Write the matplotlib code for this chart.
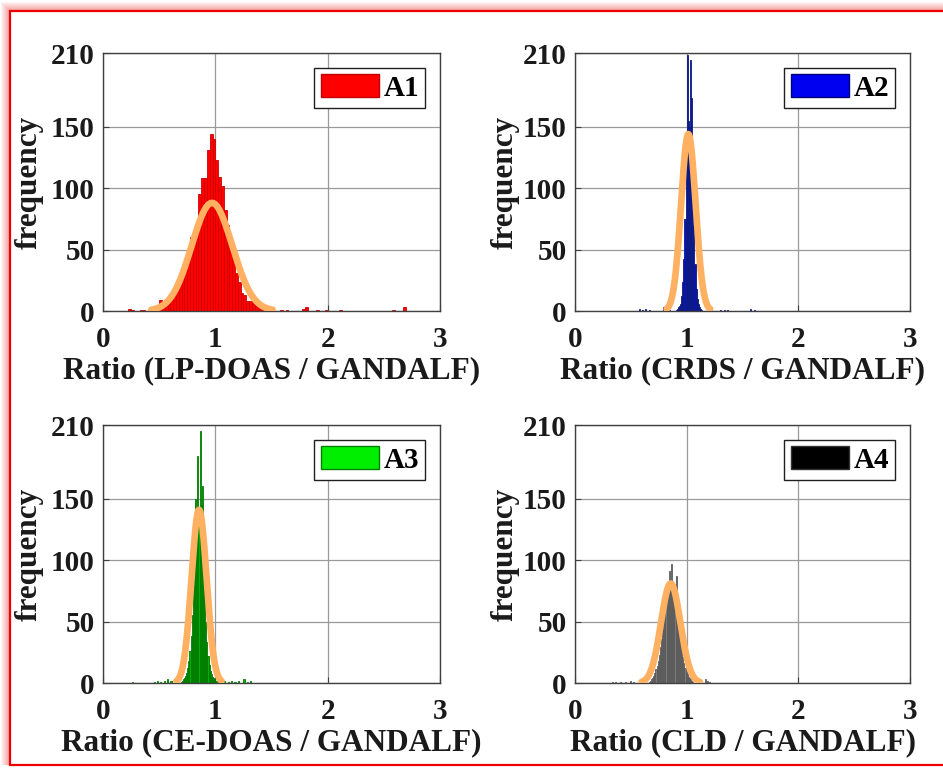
import numpy as np
import matplotlib
matplotlib.use("Agg")
import matplotlib.pyplot as plt
from matplotlib.patches import Rectangle, Patch

# ---------------- data ----------------
labels = ["A1", "A2", "A3", "A4"]
xlabels = ["Ratio (LP-DOAS / GANDALF)", "Ratio (CRDS / GANDALF)",
           "Ratio (CE-DOAS / GANDALF)", "Ratio (CLD / GANDALF)"]
xticks = [0, 1, 2, 3]
yticks = [0, 50, 100, 150, 210]

# main body: first bin left edge, bin width, counts
a1_start, a1_width = 0.400, 0.025
a1_counts = [1, 1, 2, 3, 9, 4, 6, 8, 12, 15, 18, 22, 30, 33, 47, 60, 66, 70, 95, 108,
             108, 131, 144, 140, 123, 109, 102, 82, 70, 55, 42, 31, 24, 15, 13, 8, 8, 9,
             7, 4, 3, 2, 2, 1, 1]
a1_out_x = [0.225, 0.250, 0.325, 0.350, 1.575, 1.625, 1.775, 1.800, 1.900, 1.975, 2.100, 2.575, 2.675]
a1_out_n = [2, 1, 1, 1, 1, 1, 2, 3, 1, 1, 1, 1, 3]

a2_start, a2_width = 0.90, 0.01
a2_counts = [1, 2, 3, 4, 6, 12, 24, 42, 75, 118, 208, 155, 150, 204, 173, 112, 70, 38, 18,
             10, 6, 3, 2, 1]
a2_out_x = [0.57, 0.60, 0.63, 0.66, 0.79, 0.81, 0.84, 1.22, 1.30, 1.33, 1.36, 1.57, 1.60]
a2_out_n = [2, 1, 2, 1, 3, 2, 1, 3, 1, 1, 1, 2, 1]

a3_start, a3_width = 0.69, 0.01
a3_counts = [1, 2, 3, 4, 6, 8, 12, 18, 26, 38, 55, 80, 110, 150, 141, 185, 140, 205, 145,
             160, 110, 75, 50, 33, 22, 15, 10, 7, 5, 4, 3, 2, 2, 1, 1]
a3_out_x = [0.26, 0.45, 0.48, 0.51, 0.54, 0.57, 0.60, 0.63, 1.08, 1.11, 1.14, 1.17, 1.20, 1.25, 1.28, 1.31]
a3_out_n = [1, 1, 2, 1, 2, 3, 2, 1, 2, 1, 2, 1, 2, 3, 1, 2]

a4_start, a4_width = 0.66, 0.01
a4_counts = [1, 2, 3, 4, 6, 8, 11, 14, 18, 23, 29, 36, 44, 52, 60, 68, 75, 80, 91, 82,
             97, 80, 78, 74, 87, 62, 52, 43, 35, 27, 21, 16, 12, 9, 7, 5, 4, 3, 2, 1]
a4_out_x = [0.33, 0.36, 0.40, 0.45, 0.49, 0.52, 1.16, 1.18, 1.20]
a4_out_n = [1, 1, 1, 1, 2, 1, 3, 2, 1]

# normal fits (mean, sigma, peak height)
fit_mu = [0.97, 1.015, 0.855, 0.857]
fit_sigma = [0.18, 0.065, 0.067, 0.087]
fit_peak = [88, 144, 141, 81]

datasets = [
    (a1_start, a1_width, a1_counts, a1_out_x, a1_out_n),
    (a2_start, a2_width, a2_counts, a2_out_x, a2_out_n),
    (a3_start, a3_width, a3_counts, a3_out_x, a3_out_n),
    (a4_start, a4_width, a4_counts, a4_out_x, a4_out_n),
]

# ---------------- style ----------------
face = ["#FF0000", "#0A10C8", "#00B000", "#7A7A7A"]
edge = ["#D00000", "#0A1A80", "#007A00", "#5A5A5A"]
leg_face = ["#FF0000", "#0000F0", "#00EE00", "#000000"]
leg_edge = ["#C00000", "#00007A", "#008000", "#333333"]
fit_color = "#FFB060"
FONT = "Liberation Serif"
TXT = "#1A1A1A"

W, H = 943, 768
fig = plt.figure(figsize=(W / 100, H / 100), dpi=100)

# background / soft red glow border
bg = fig.add_axes([0, 0, 1, 1])
bg.set_xlim(0, W)
bg.set_ylim(H, 0)
bg.axis("off")
glow_cols = ["#FEF2F2", "#FDE8E8", "#FCDDDD", "#FAD2D2", "#F9C8C8", "#F8BEBE",
             "#F6B4B4", "#F5AAAA", "#F4A2A2"]
for k, c in enumerate(glow_cols):
    off = 9 - k
    bg.add_patch(Rectangle((10 - off, 11 - off), W + 20, 754 + off, facecolor=c,
                           edgecolor="none", zorder=1))
bg.add_patch(Rectangle((10, 11), W + 20, 754, facecolor="white", edgecolor="#EE0000",
                       linewidth=1.6, zorder=2))

positions = [
    [103 / W, 1 - 311 / H, 337 / W, 258 / H],
    [575 / W, 1 - 311 / H, 335 / W, 258 / H],
    [103 / W, 1 - 683 / H, 337 / W, 258 / H],
    [575 / W, 1 - 683 / H, 335 / W, 258 / H],
]
ylab_x = [-0.175, -0.165, -0.175, -0.165]

for i, (start, width, counts, ox, on) in enumerate(datasets):
    ax = fig.add_axes(positions[i])
    ax.set_zorder(5)
    lefts = start + width * np.arange(len(counts))
    ax.bar(lefts, counts, width=width, align="edge", color=face[i],
           edgecolor=edge[i], linewidth=0.6, zorder=2)
    ax.bar(ox, on, width=width, align="edge", color=face[i],
           edgecolor=edge[i], linewidth=0.6, zorder=2)
    mu, sg, pk = fit_mu[i], fit_sigma[i], fit_peak[i]
    xx = np.linspace(mu - 3 * sg, mu + 3 * sg, 200)
    ax.plot(xx, pk * np.exp(-0.5 * ((xx - mu) / sg) ** 2), color=fit_color,
            linewidth=4.8, solid_capstyle="round", zorder=3)

    ax.set_xlim(0, 3)
    ax.set_ylim(0, 210)
    ax.set_xticks(xticks)
    ax.set_yticks(yticks)
    ax.grid(True, color="#9A9A9A", linewidth=0.9, zorder=0)
    ax.set_axisbelow(True)
    for s in ax.spines.values():
        s.set_color("#404040")
        s.set_linewidth(1.0)
    ax.tick_params(direction="in", length=4, width=0.8, color="#404040",
                   labelsize=21, pad=6)
    ax.tick_params(axis="x", pad=11)
    for t in ax.get_xticklabels() + ax.get_yticklabels():
        t.set_fontfamily(FONT)
        t.set_fontweight("bold")
        t.set_color(TXT)
    ax.set_xlabel(xlabels[i], fontsize=22.5, fontweight="bold", family=FONT, color=TXT)
    ax.set_ylabel("frequency", fontsize=22.5, fontweight="bold", family=FONT, color=TXT)
    ax.xaxis.set_label_coords(0.5, -0.175)
    ax.yaxis.set_label_coords(ylab_x[i], 0.5)

    handle = Patch(facecolor=leg_face[i], edgecolor=leg_edge[i], linewidth=1)
    leg = ax.legend([handle], [labels[i]], loc="upper right",
                    prop={"family": FONT, "weight": "bold", "size": 21},
                    fancybox=False, framealpha=1, edgecolor="#202020",
                    handlelength=2.0, handleheight=0.85, handletextpad=0.15,
                    borderpad=0.22, borderaxespad=0.5)
    leg.get_frame().set_linewidth(1.0)

fig.savefig("out.png", dpi=100)
